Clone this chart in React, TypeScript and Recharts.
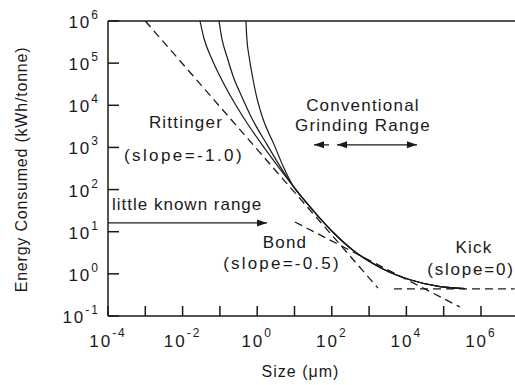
import { ComposedChart, Line, XAxis, YAxis, ReferenceLine, ReferenceDot } from 'recharts';

const FONT = '"Liberation Sans", Arial, Helvetica, sans-serif';
const INK = '#1a1a1a';

// decades on each axis
const sizeTicks = [1e-4, 1e-3, 1e-2, 1e-1, 1, 10, 1e2, 1e3, 1e4, 1e5, 1e6];
const energyTicks = [1e-1, 1, 10, 1e2, 1e3, 1e4, 1e5, 1e6];

// energy levels at which the three solid curves were read
const energyLevels = [1e6, 4.0e5, 1.34e5, 4.5e4, 1.68e4, 5.05e3, 1.15e3, 346];
const sizeA = [0.0293, 0.037, 0.0588, 0.105, 0.191, 0.432, 1.36, 3.7];
const sizeB = [0.0946, 0.112, 0.158, 0.234, 0.377, 0.708, 1.85, 4.19];
const sizeC = [0.501, 0.526, 0.614, 0.758, 0.952, 1.4, 2.86, 5.04];

// where they run together
const sizeTail = [9.12, 19.1, 42.7, 108, 370, 2360, 1.25e4, 7.96e4, 3.72e5];
const energyTail = [122, 53.9, 23.5, 9.73, 3.64, 1.31, 0.724, 0.497, 0.445];

// dashed asymptotes
const rittingerSize = [0.001, 1730];
const rittingerEnergy = [1e6, 0.46];
const bondSize = [10.3, 2.7e5];
const bondEnergy = [17, 0.164];
const kickSize = [4650, 8e6];
const kickEnergy = [0.44, 0.44];

const zip = (xs: number[], ys: number[]) => xs.map((x, i) => ({ x, y: ys[i] }));

function YTick({ x, y, payload }: any) {
  const exp = Math.round(Math.log10(payload.value));
  return (
    <g>
      <line x1={x} y1={y} x2={x + 11} y2={y} stroke={INK} strokeWidth={1.5} />
      <text x={x - 8} y={y + 7} textAnchor="end" fontFamily={FONT} fontSize={17} letterSpacing={2} fill={INK}>
        10<tspan dy={-9} fontSize={12}>{exp}</tspan>
      </text>
    </g>
  );
}

function XTick({ x, y, payload }: any) {
  const exp = Math.round(Math.log10(payload.value));
  return (
    <g>
      <line x1={x} y1={y} x2={x} y2={y - 10} stroke={INK} strokeWidth={1.5} />
      {exp % 2 === 0 && (
        <text x={x} y={y + 31} textAnchor="middle" fontFamily={FONT} fontSize={17} letterSpacing={2} fill={INK}>
          10<tspan dy={-10} fontSize={12}>{exp}</tspan>
        </text>
      )}
    </g>
  );
}

const arrow = (headStart: boolean, headEnd: boolean) => (p: any) => {
  const { x1, y1, x2, y2 } = p;
  const head = (tx: number, ty: number, dir: number) => (
    <polygon points={`${tx},${ty} ${tx - dir * 10},${ty - 3.5} ${tx - dir * 10},${ty + 3.5}`} fill={INK} />
  );
  return (
    <g>
      <line x1={x1} y1={y1} x2={x2} y2={y2} stroke={INK} strokeWidth={1.3} />
      {headStart && head(x1, y1, -1)}
      {headEnd && head(x2, y2, 1)}
    </g>
  );
};

const note = (text: string, x: number, y: number, spacing = 1.2, anchor = 'middle') => (
  <ReferenceDot
    key={text}
    x={x}
    y={y}
    ifOverflow="visible"
    shape={(p: any) => (
      <text x={p.cx} y={p.cy} textAnchor={anchor} fontFamily={FONT} fontSize={17} letterSpacing={spacing} fill={INK}>
        {text}
      </text>
    )}
  />
);

export default function App() {
  const solid = { type: 'monotone' as const, dataKey: 'y', stroke: INK, strokeWidth: 1.2, dot: false, activeDot: false, isAnimationActive: false };
  const dashed = { type: 'linear' as const, dataKey: 'y', stroke: INK, strokeWidth: 1.3, strokeDasharray: '8 5', dot: false, activeDot: false, isAnimationActive: false };

  return (
    <div style={{ position: 'absolute', left: 0, top: 0, background: '#fff' }}>
      <ComposedChart width={515} height={385} margin={{ top: 21, right: 0, bottom: 0, left: 0 }}>
        <XAxis
          type="number"
          dataKey="x"
          scale="log"
          domain={[1e-4, 8.17e6]}
          allowDataOverflow
          ticks={sizeTicks}
          interval={0}
          height={69}
          tickSize={0}
          tickMargin={0}
          tickLine={false}
          tick={<XTick />}
          axisLine={{ stroke: INK, strokeWidth: 1.5 }}
          label={{
            content: (p: any) => (
              <text x={p.viewBox.x + p.viewBox.width / 2 - 11} y={p.viewBox.y + 61} textAnchor="middle" fontFamily={FONT} fontSize={16} letterSpacing={1} fill={INK}>
                Size (μm)
              </text>
            ),
          }}
        />
        <YAxis
          type="number"
          scale="log"
          domain={[0.1, 1e6]}
          allowDataOverflow
          ticks={energyTicks}
          interval={0}
          width={108}
          tickSize={0}
          tickMargin={0}
          tickLine={false}
          tick={<YTick />}
          axisLine={{ stroke: INK, strokeWidth: 1.5 }}
          label={{
            content: (p: any) => {
              const cy = p.viewBox.y + p.viewBox.height / 2 + 1;
              return (
                <text x={27} y={cy} transform={`rotate(-90 27 ${cy})`} textAnchor="middle" fontFamily={FONT} fontSize={16} letterSpacing={0.8} fill={INK}>
                  Energy Consumed (kWh/tonne)
                </text>
              );
            },
          }}
        />
        <ReferenceLine y={1e6} stroke={INK} strokeWidth={1.5} ifOverflow="visible" />

        <Line {...solid} data={zip([...sizeA, ...sizeTail], [...energyLevels, ...energyTail])} />
        <Line {...solid} data={zip([...sizeB, ...sizeTail], [...energyLevels, ...energyTail])} />
        <Line {...solid} data={zip([...sizeC, ...sizeTail], [...energyLevels, ...energyTail])} />

        <Line {...dashed} data={zip(rittingerSize, rittingerEnergy)} />
        <Line {...dashed} data={zip(bondSize, bondEnergy)} />
        <Line {...dashed} data={zip(kickSize, kickEnergy)} />

        <ReferenceLine segment={[{ x: 1e-4, y: 16.2 }, { x: 1.83, y: 16.2 }]} ifOverflow="visible" shape={arrow(false, true)} />
        <ReferenceLine segment={[{ x: 33.3, y: 1150 }, { x: 84, y: 1150 }]} ifOverflow="visible" shape={arrow(true, false)} />
        <ReferenceLine segment={[{ x: 138, y: 1150 }, { x: 19200, y: 1150 }]} ifOverflow="visible" shape={arrow(true, true)} />

        {note('Rittinger', 0.0123, 2920)}
        {note('(slope=-1.0)', 0.0109, 481, 2.4)}
        {note('Conventional', 685, 7400)}
        {note('Grinding Range', 685, 2480)}
        {note('little  known  range', 1.28e-4, 33, 1, 'start')}
        {note('Bond', 5.56, 4.12)}
        {note('(slope=-0.5)', 4.62, 1.31, 2.2)}
        {note('Kick', 6.5e5, 3.13)}
        {note('(slope=0)', 5.4e5, 0.94, 1.8)}
      </ComposedChart>
    </div>
  );
}
